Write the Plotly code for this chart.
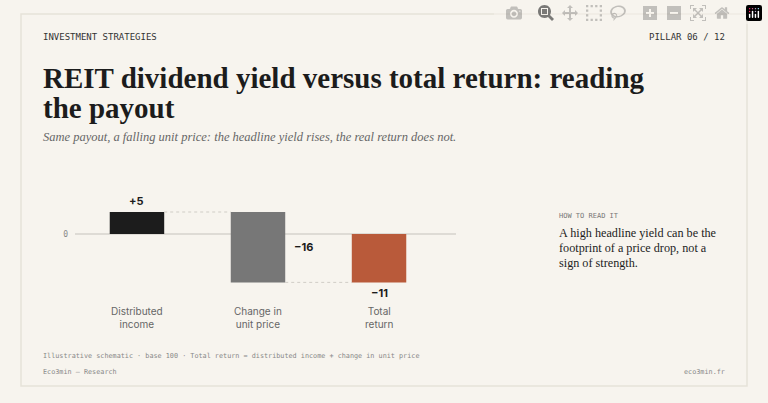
import plotly.graph_objects as go

categories = ["Distributed<br>income", "Change in<br>unit price", "Total<br>return"]
values = [5, -16, -11]
bases = [0, 5, 0]
labels = ["+5", "−16", "−11"]
colors = ["#1c1c1c", "#777777", "#b95a3a"]

W, H = 768, 403
def py(p): return 1 - p / H

fig = go.Figure()
fig.add_bar(x=[0, 1, 2], y=values, base=bases, marker=dict(color=colors, line=dict(width=0)),
            width=0.45, hoverinfo="skip")
fig.add_shape(type="line", xref="x", yref="y", x0=-0.512, x1=2.636, y0=0, y1=0,
              line=dict(color="#d6d3cc", width=1.5), layer="below")
ends = [bases[i] + values[i] for i in range(3)]
fig.add_shape(type="line", xref="x", yref="y", x0=0.225, x1=0.775, y0=ends[0], y1=ends[0],
              line=dict(color="#d0cdc6", width=1, dash="dot"))
fig.add_shape(type="line", xref="x", yref="y", x0=1.225, x1=1.775, y0=ends[1], y1=ends[1],
              line=dict(color="#d0cdc6", width=1, dash="dot"))
lf = dict(family="Inter, Roboto, sans-serif", size=11, color="#1c1c1c")
fig.add_annotation(x=0, y=ends[0], text="<b>"+labels[0]+"</b>", showarrow=False, yanchor="bottom", yshift=2, font=lf)
fig.add_annotation(x=1.28, y=-3, text="<b>"+labels[1]+"</b>", showarrow=False, xanchor="left", font=lf)
fig.add_annotation(x=2, y=ends[2], text="<b>"+labels[2]+"</b>", showarrow=False, yanchor="top", yshift=-2, font=lf)
for i, c in enumerate(categories):
    fig.add_annotation(x=i, y=-13, text=c, showarrow=False, yanchor="top", yshift=-12,
                       font=dict(family="Inter, Roboto, sans-serif", size=10, color="#666666"))

mono = "DejaVu Sans Mono, monospace"
serif = "Liberation Serif, DejaVu Serif, serif"
def txt(x, y, t, size, color, family, xanchor="left", **kw):
    fig.add_annotation(xref="paper", yref="paper", x=x / W, y=py(y), text=t, showarrow=False,
                       xanchor=xanchor, yanchor="middle", font=dict(size=size, color=color, family=family), align="left", **kw)

txt(41, 37, "INVESTMENT STRATEGIES", 9, "#333333", mono)
txt(727, 37, "PILLAR 06 / 12", 9, "#333333", mono, xanchor="right")
txt(41, 78, "<b>REIT dividend yield versus total return: reading</b>", 29, "#1c1c1c", serif)
txt(41, 108, "<b>the payout</b>", 29, "#1c1c1c", serif)
txt(41, 137, "<i>Same payout, a falling unit price: the headline yield rises, the real return does not.</i>", 12.5, "#666666", serif)
txt(557, 216, "HOW TO READ IT", 7, "#777777", mono)
txt(557, 233, "A high headline yield can be the", 12.2, "#1c1c1c", serif)
txt(557, 248, "footprint of a price drop, not a", 12.2, "#1c1c1c", serif)
txt(557, 263, "sign of strength.", 12.2, "#1c1c1c", serif)
txt(41, 356, "Illustrative schematic · base 100 · Total return = distributed income + change in unit price", 6.8, "#888888", mono)
txt(41, 372, "Eco3min — Research", 6.8, "#888888", mono)
txt(727, 372, "eco3min.fr", 6.8, "#888888", mono, xanchor="right")

fig.add_shape(type="rect", xref="paper", yref="paper", x0=21 / W, x1=747 / W, y0=py(386), y1=py(14),
              line=dict(color="#e6e2d9", width=1.5), layer="below")

fig.update_layout(
    width=W, height=H, margin=dict(l=0, r=0, t=0, b=0),
    paper_bgcolor="#f7f4ee", plot_bgcolor="rgba(0,0,0,0)", showlegend=False,
    xaxis=dict(domain=[75 / W, 456 / W], range=[-0.512, 2.636], visible=False),
    yaxis=dict(domain=[py(234 + 13 * 4.4), py(234 - 8 * 4.4)], range=[-13, 8],
               tickvals=[0], ticktext=["0"], showgrid=False, zeroline=False, showline=False,
               tickfont=dict(family=mono, size=8, color="#888888"), ticks="", ticklabelstandoff=6),
)
fig.write_html("out.html")
with open("out.html", encoding="utf-8") as f:
    html = f.read()
html = html.replace("<head>", "<head><style>html,body{margin:0;padding:0;background:#f7f4ee;overflow:hidden}</style>", 1)
with open("out.html", "w", encoding="utf-8") as f:
    f.write(html)
